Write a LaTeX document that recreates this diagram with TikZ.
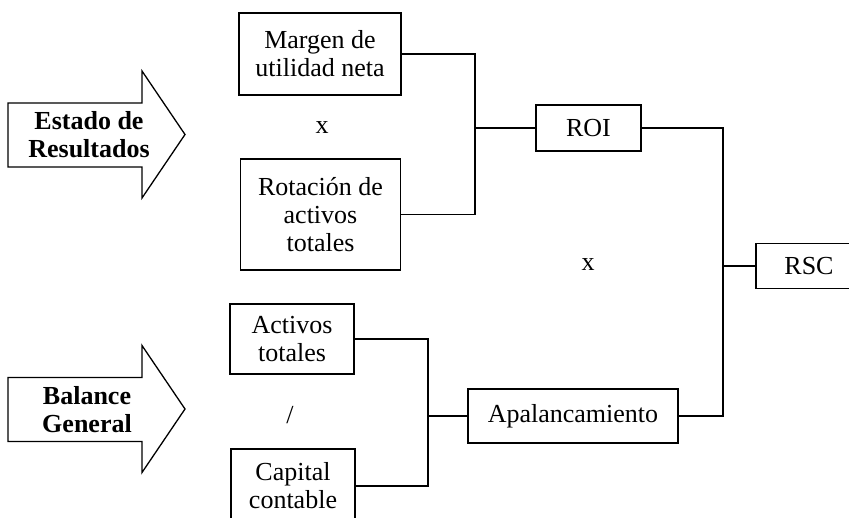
\documentclass[tikz,border=0pt]{standalone}
\usepackage{fontspec}
\setmainfont{Liberation Serif}
\begin{document}
\begin{tikzpicture}[x=1pt,y=-1pt,
  caja/.style={draw,line width=1.6pt,align=center,inner sep=0pt,
    font=\fontsize{26}{28}\selectfont},
  linea/.style={line width=1.6pt},
  flecha/.style={draw,line width=1.3pt},
  titulo/.style={align=center,font=\fontsize{26}{28}\selectfont\bfseries},
  signo/.style={font=\fontsize{26}{28}\selectfont}]
  \useasboundingbox (0,0) rectangle (849,517);
  \clip (0,0) rectangle (849,517);

  % flechas de entrada
  \draw[flecha] (8,103) -- (142,103) -- (142,71) -- (185,134.5) --
    (142,198) -- (142,167) -- (8,167) -- cycle;
  \node[titulo] (estado) at (89,135) {Estado de\\Resultados};

  \begin{scope}[shift={(0,274.5)}]
    \draw[flecha] (8,103) -- (142,103) -- (142,71) -- (185,134.5) --
      (142,198) -- (142,167) -- (8,167) -- cycle;
    \node[titulo] (balance) at (87,135) {Balance\\General};
  \end{scope}

  % cajas
  \node[caja,minimum width=162pt,minimum height=82pt] (margen) at (320,54) {Margen de\\utilidad neta};
  \node[signo] (por1) at (322,128) {x};
  \node[caja,minimum width=160pt,minimum height=111pt] (rotacion) at (320.5,214.5) {Rotación de\\activos\\totales};
  \node[caja,minimum width=105pt,minimum height=46pt] (roi) at (588.5,128) {ROI};
  \node[signo] (por2) at (588,265) {x};
  \node[caja,minimum width=106pt,minimum height=45pt] (rsc) at (809,266) {RSC};
  \node[caja,minimum width=124pt,minimum height=70pt] (activos) at (292,339) {Activos\\totales};
  \node[signo] (entre) at (290,415) {/};
  \node[caja,minimum width=124pt,minimum height=74pt] (capital) at (293,486) {Capital\\contable};
  \node[caja,minimum width=210pt,minimum height=54pt] (apal) at (573,416) {Apalancamiento};

  % uniones
  \coordinate (j1) at (475,128);
  \coordinate (j2) at (723,266);
  \coordinate (j3) at (428,416);
  \draw[linea] (margen.east) -| (j1) |- (rotacion.east);
  \draw[linea] (j1) -- (roi.west);
  \draw[linea] (roi.east) -| (j2) |- (apal.east);
  \draw[linea] (j2) -- (rsc.west);
  \draw[linea] (activos.east) -| (j3) |- (capital.east);
  \draw[linea] (j3) -- (apal.west);
\end{tikzpicture}
\end{document}
